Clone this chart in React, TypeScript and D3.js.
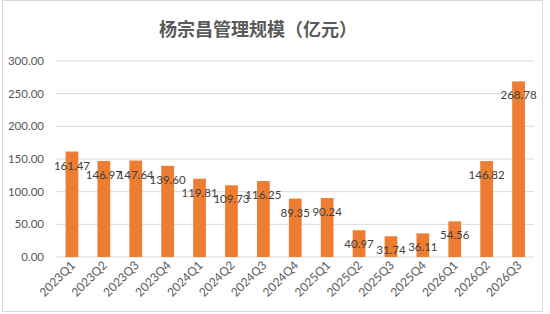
import React from "react";
import * as d3 from "d3";

const title = "杨宗昌管理规模（亿元）";
const quarters = [
  "2023Q1", "2023Q2", "2023Q3", "2023Q4",
  "2024Q1", "2024Q2", "2024Q3", "2024Q4",
  "2025Q1", "2025Q2", "2025Q3", "2025Q4",
  "2026Q1", "2026Q2", "2026Q3",
];
const aum = [
  161.47, 146.97, 147.64, 139.6,
  119.81, 109.73, 116.25, 89.35,
  90.24, 40.97, 31.74, 36.11,
  54.56, 146.82, 268.78,
];
const yTicks = [0, 50, 100, 150, 200, 250, 300];

const W = 550;
const H = 314;
const font = "Lato, 'Noto Sans CJK SC', sans-serif";

export default function App() {
  const x = d3
    .scaleBand<string>()
    .domain(quarters)
    .range([56, 534.5])
    .paddingInner(0.6)
    .paddingOuter(0.3);
  const y = d3.scaleLinear().domain([0, 300]).range([257, 61]);
  const fmt = d3.format(".2f");

  return (
    <svg width={W} height={H} style={{ position: "absolute", left: 0, top: 0 }}>
      <rect x={0} y={0} width={W} height={H} fill="#fff" />
      <rect x={2.5} y={0.5} width={540} height={311} fill="none" stroke="#d9d9d9" />
      <text
        x={258}
        y={36}
        textAnchor="middle"
        fontFamily="'Noto Sans CJK SC', sans-serif"
        fontWeight="bold"
        fontSize={18}
        fill="#595959"
      >
        {title}
      </text>

      {yTicks.map((t) => (
        <g key={t}>
          <line x1={56} x2={534} y1={y(t)} y2={y(t)} stroke="#d9d9d9" strokeWidth={1} />
          <text
            x={44}
            y={y(t)}
            dy="0.35em"
            textAnchor="end"
            fontFamily={font}
            fontSize={11.5}
            fill="#595959"
          >
            {fmt(t)}
          </text>
        </g>
      ))}

      {quarters.map((q, i) => {
        const cx = x(q)! + x.bandwidth() / 2;
        return (
          <g key={q}>
            <rect x={x(q)} y={y(aum[i])} width={x.bandwidth()} height={y(0) - y(aum[i])} fill="#ed7d31" />
            <text
              x={cx}
              y={y(aum[i]) + 14}
              dy="0.35em"
              textAnchor="middle"
              fontFamily={font}
              fontSize={11.5}
              fill="#404040"
            >
              {fmt(aum[i])}
            </text>
            <text
              transform={`translate(${cx + 4},${266}) rotate(-45)`}
              textAnchor="end"
              fontFamily={font}
              fontSize={12}
              fill="#595959"
            >
              {q}
            </text>
          </g>
        );
      })}
    </svg>
  );
}
